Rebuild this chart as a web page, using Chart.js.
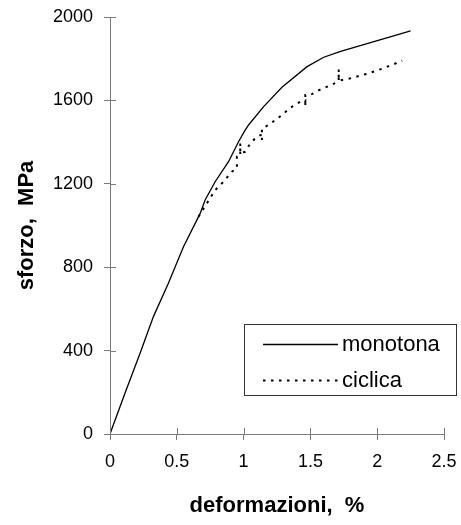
<!DOCTYPE html>
<html>
<head>
<meta charset="utf-8">
<script src="https://cdn.jsdelivr.net/npm/chart.js@4/dist/chart.umd.min.js"></script>
<style>
  html, body { margin: 0; padding: 0; background: #fff; }
  #wrap { width: 461px; height: 525px; }
</style>
</head>
<body>
<div id="wrap"><canvas id="c" width="461" height="525"></canvas></div>
<script>
// ---- data ----
const seriesNames = ['monotona', 'ciclica'];

const monotonaX = [0, 0.112, 0.225, 0.325, 0.437, 0.55, 0.675, 0.712, 0.787, 0.887, 0.962, 1.005, 1.037, 1.15, 1.287, 1.475, 1.6, 1.72, 2.25];
const monotonaY = [0, 195, 387, 563, 723, 898, 1058, 1122, 1210, 1306, 1402, 1450, 1482, 1570, 1663, 1762, 1807, 1834, 1934];

const ciclicaX = [0.662, 0.725, 0.787, 0.85, 0.912, 0.95, 0.95, 0.975, 0.975, 0.975, 1.012, 1.05, 1.1, 1.137, 1.137, 1.137, 1.187, 1.237, 1.287, 1.35, 1.425, 1.462, 1.462, 1.462, 1.5, 1.56, 1.637, 1.712, 1.712, 1.712, 1.8, 1.937, 2.05, 2.187];
const ciclicaY = [1042, 1106, 1170, 1210, 1258, 1274, 1330, 1330, 1394, 1345, 1354, 1394, 1426, 1436, 1410, 1466, 1482, 1506, 1530, 1565, 1594, 1600, 1570, 1626, 1626, 1648, 1669, 1690, 1749, 1695, 1706, 1730, 1755, 1790];

const xTickLabels = ['0', '0.5', '1', '1.5', '2', '2.5'];
const xTickValues = [0, 0.5, 1, 1.5, 2, 2.5];
const yTickLabels = ['0', '400', '800', '1200', '1600', '2000'];
const yTickValues = [0, 400, 800, 1200, 1600, 2000];

const xTitle = 'deformazioni,  %';
const yTitle = 'sforzo,  MPa';

// ---- build ----
const toPts = (xs, ys) => xs.map((x, i) => ({ x: x, y: ys[i] }));
const FONT = "'Liberation Sans', Arial, sans-serif";
const AXIS = '#7a7a7a';

function labelFor(values, labels, v) {
  const i = values.findIndex(t => Math.abs(t - v) < 1e-9);
  return i >= 0 ? labels[i] : '';
}

const innerTicks = {
  id: 'innerTicks',
  afterDraw(chart) {
    const ctx = chart.ctx, xs = chart.scales.x, ys = chart.scales.y, a = chart.chartArea;
    ctx.save();
    ctx.strokeStyle = AXIS;
    ctx.lineWidth = 1;
    ctx.beginPath();
    xs.ticks.forEach(t => {
      const px = Math.round(xs.getPixelForValue(t.value)) + 0.5;
      ctx.moveTo(px, a.bottom); ctx.lineTo(px, a.bottom - 6);
    });
    ys.ticks.forEach(t => {
      const py = Math.round(ys.getPixelForValue(t.value)) + 0.5;
      ctx.moveTo(a.left, py); ctx.lineTo(a.left + 6, py);
    });
    ctx.stroke();
    ctx.restore();
  }
};

const boxLegend = {
  id: 'boxLegend',
  afterDraw(chart) {
    const ctx = chart.ctx;
    const bx = 244.5, by = 324.5, bw = 212, bh = 71;
    ctx.save();
    ctx.fillStyle = '#fff';
    ctx.fillRect(bx, by, bw, bh);
    ctx.strokeStyle = '#333';
    ctx.lineWidth = 1;
    ctx.strokeRect(bx, by, bw, bh);
    const rows = [344.5, 380.5];
    chart.data.datasets.forEach((ds, i) => {
      const y = rows[i];
      ctx.strokeStyle = ds.borderColor;
      ctx.lineWidth = ds.borderWidth;
      ctx.setLineDash(ds.borderDash || []);
      ctx.beginPath();
      ctx.moveTo(263, y); ctx.lineTo(338, y);
      ctx.stroke();
      ctx.setLineDash([]);
      ctx.fillStyle = '#000';
      ctx.font = '22px ' + FONT;
      ctx.textBaseline = 'alphabetic';
      ctx.textAlign = 'left';
      ctx.fillText(ds.label, 342, y + 6);
    });
    ctx.restore();
  }
};

new Chart(document.getElementById('c'), {
  type: 'scatter',
  data: {
    datasets: [
      {
        label: seriesNames[0],
        data: toPts(monotonaX, monotonaY),
        showLine: true,
        borderColor: '#000',
        borderWidth: 1.3,
        pointRadius: 0,
        tension: 0
      },
      {
        label: seriesNames[1],
        data: toPts(ciclicaX, ciclicaY),
        showLine: true,
        borderColor: '#000',
        borderWidth: 2,
        borderDash: [2.5, 5.5],
        pointRadius: 0,
        tension: 0
      }
    ]
  },
  options: {
    responsive: false,
    animation: false,
    devicePixelRatio: 1,
    layout: { padding: { top: 17, right: 17, left: 0, bottom: 0 } },
    plugins: { legend: { display: false }, tooltip: { enabled: false } },
    scales: {
      x: {
        type: 'linear', min: 0, max: 2.5,
        afterBuildTicks(s) { s.ticks = xTickValues.map(v => ({ value: v })); },
        afterFit(s) { s.height = 91; s.paddingLeft = 0; s.paddingRight = 0; },
        ticks: {
          color: '#000', padding: 11,
          font: { family: FONT, size: 18 },
          maxRotation: 0,
          callback: v => labelFor(xTickValues, xTickLabels, v)
        },
        grid: { drawOnChartArea: false, drawTicks: true, tickLength: 6, color: AXIS, tickColor: AXIS },
        border: { color: AXIS, width: 1 },
        title: { display: true, text: xTitle, color: '#000', font: { family: FONT, size: 22, weight: 'bold' }, padding: { top: 0, bottom: 6 } }
      },
      y: {
        type: 'linear', min: 0, max: 2000,
        afterBuildTicks(s) { s.ticks = yTickValues.map(v => ({ value: v })); },
        afterFit(s) { s.width = 110; s.paddingTop = 0; s.paddingBottom = 0; },
        ticks: {
          color: '#000', padding: 11,
          font: { family: FONT, size: 18 },
          callback: v => labelFor(yTickValues, yTickLabels, v)
        },
        grid: { drawOnChartArea: false, drawTicks: true, tickLength: 6, color: AXIS, tickColor: AXIS },
        border: { color: AXIS, width: 1 },
        title: { display: true, text: yTitle, color: '#000', font: { family: FONT, size: 22, weight: 'bold' }, padding: { top: 14, bottom: 0 } }
      }
    }
  },
  plugins: [innerTicks, boxLegend]
});
</script>
</body>
</html>
